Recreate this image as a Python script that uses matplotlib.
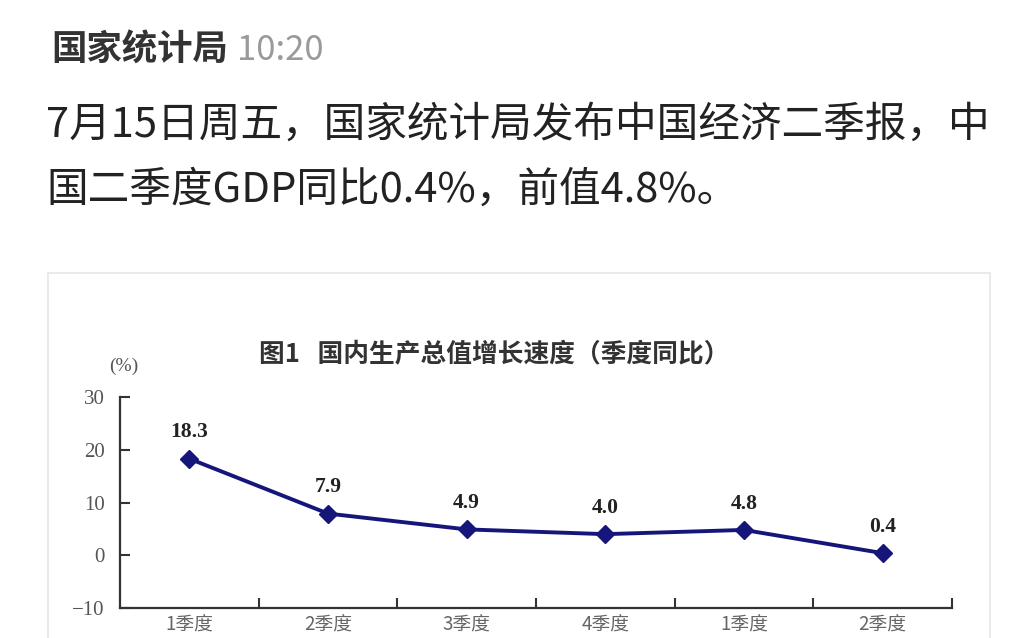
import matplotlib.pyplot as plt
from matplotlib.patches import Rectangle

# Data
quarters = ['1季度', '2季度', '3季度', '4季度', '1季度', '2季度']
gdp_growth = [18.3, 7.9, 4.9, 4.0, 4.8, 0.4]
y_ticks = [-10, 0, 10, 20, 30]

W, H = 1024, 638
cjk = ['Noto Sans CJK SC', 'DejaVu Sans']
serif_cjk = ['Liberation Serif', 'Noto Sans CJK SC']


def fx(px):
    return px / W


def fy(py):
    return 1 - py / H


fig = plt.figure(figsize=(W / 100, H / 100), dpi=100)
fig.patch.set_facecolor('white')

# Post header and text
fig.text(fx(51), fy(50), '国家统计局', family=cjk, fontsize=25.5, fontweight='bold',
         color='#333333', va='center', ha='left')
fig.text(fx(237), fy(50), '10:20', family=cjk, fontsize=25, color='#9a9a9a',
         va='center', ha='left')
fig.text(fx(46), fy(125), '7月15日周五，国家统计局发布中国经济二季报，中',
         family=cjk, fontsize=30, color='#222222', va='center', ha='left')
fig.text(fx(46), fy(190), '国二季度GDP同比0.4%，前值4.8%。',
         family=cjk, fontsize=30, color='#222222', va='center', ha='left')

# Frame around the embedded chart image
fig.patches.append(Rectangle((fx(48), -0.1), fx(990) - fx(48), fy(273) + 0.1,
                             transform=fig.transFigure, fill=False,
                             edgecolor='#e6e6e6', linewidth=1.2))

fig.text(fx(494), fy(355), '图1   国内生产总值增长速度（季度同比）', family=cjk,
         fontsize=18.5, fontweight='bold', color='#333333', va='center', ha='center')
fig.text(fx(124), fy(366), '(%)', family=serif_cjk, fontsize=14, color='#555555',
         va='center', ha='center')

# Chart
ax = fig.add_axes([fx(120), fy(608), fx(952) - fx(120), fy(397) - fy(608)])
x = list(range(len(quarters)))
ax.plot(x, gdp_growth, color='#16167a', linewidth=2.8, marker='D', markersize=9,
        markerfacecolor='#16167a', markeredgecolor='#16167a')
for xi, v in zip(x, gdp_growth):
    ax.annotate(f'{v:.1f}', (xi, v), xytext=(0, 19), textcoords='offset points',
                ha='center', va='center', fontsize=15.5, fontweight='bold',
                family='Liberation Serif', color='#222222')

ax.set_xlim(-0.5, len(quarters) - 0.5)
ax.set_ylim(-10, 30)
ax.set_yticks(y_ticks)
ax.set_yticklabels([str(t).replace('-', '\u2212') for t in y_ticks],
                   family='Liberation Serif', fontsize=15, color='#555555')
ax.tick_params(axis='y', direction='in', length=7, width=1.5, pad=11, colors='#333333',
               labelcolor='#555555')

# category labels at centers, ticks at boundaries
ax.set_xticks(x)
ax.set_xticklabels(quarters, family=cjk, fontsize=13.5, color='#666666')
ax.tick_params(axis='x', which='major', length=0, pad=5)
ax.set_xticks([i + 0.5 for i in x], minor=True)
ax.tick_params(axis='x', which='minor', direction='in', length=7, width=1.5,
               colors='#333333')

for side in ['top', 'right']:
    ax.spines[side].set_visible(False)
for side in ['left', 'bottom']:
    ax.spines[side].set_linewidth(1.6)
    ax.spines[side].set_color('#333333')
ax.set_facecolor('none')

fig.savefig('out.png', dpi=100)
